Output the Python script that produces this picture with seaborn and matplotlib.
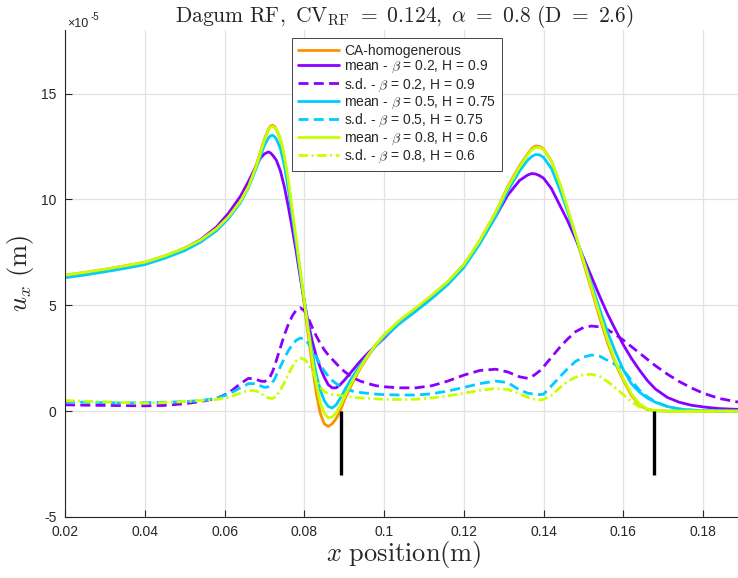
import numpy as np
import pandas as pd
import matplotlib
matplotlib.use("Agg")
import matplotlib.pyplot as plt
import seaborn as sns

# ---------------- data (displacement in units of 1e-5 m) ----------------
x_pos = [0.020, 0.025, 0.030, 0.035, 0.040, 0.045, 0.050, 0.054, 0.058, 0.061,
         0.064, 0.066, 0.068, 0.069, 0.070, 0.071, 0.0715, 0.072, 0.0725, 0.073,
         0.074, 0.075, 0.076, 0.077, 0.078, 0.079, 0.080, 0.081, 0.082, 0.083,
         0.084, 0.085, 0.086, 0.087, 0.088, 0.089, 0.090, 0.092, 0.094, 0.096,
         0.098, 0.100, 0.104, 0.108, 0.112, 0.116, 0.120, 0.124, 0.128, 0.131,
         0.134, 0.136, 0.137, 0.138, 0.139, 0.140, 0.142, 0.144, 0.146, 0.148,
         0.150, 0.152, 0.154, 0.156, 0.158, 0.160, 0.162, 0.164, 0.166, 0.168,
         0.171, 0.174, 0.177, 0.180, 0.184, 0.189]

ca_homog = [6.42, 6.55, 6.70, 6.86, 7.03, 7.33, 7.70, 8.08, 8.62, 9.20,
            9.95, 10.65, 11.65, 12.25, 12.85, 13.30, 13.45, 13.50, 13.45, 13.30,
            12.85, 11.95, 10.75, 9.35, 7.90, 6.45, 5.00, 3.55, 2.15, 0.85,
            -0.10, -0.60, -0.72, -0.60, -0.35, 0.00, 0.50, 1.30, 2.00, 2.60,
            3.15, 3.60, 4.28, 4.85, 5.45, 6.10, 6.90, 8.05, 9.40, 10.60,
            11.60, 12.15, 12.40, 12.52, 12.50, 12.38, 11.80, 10.75, 9.55, 8.30,
            7.00, 5.75, 4.45, 3.25, 2.25, 1.45, 0.75, 0.30, 0.08, 0.02,
            0.0, 0.0, 0.0, 0.0, 0.0, 0.0]

mean_b02 = [6.36, 6.50, 6.65, 6.81, 6.98, 7.30, 7.68, 8.10, 8.70, 9.35,
            10.15, 10.85, 11.60, 11.95, 12.15, 12.24, 12.20, 12.10, 11.98, 11.85,
            11.35, 10.60, 9.65, 8.60, 7.50, 6.30, 5.20, 4.15, 3.30, 2.60,
            2.05, 1.60, 1.25, 1.10, 1.10, 1.25, 1.45, 1.90, 2.35, 2.75,
            3.10, 3.45, 4.20, 4.80, 5.45, 6.10, 6.90, 7.95, 9.20, 10.20,
            10.90, 11.15, 11.22, 11.20, 11.12, 11.00, 10.50, 9.75, 9.00, 8.15,
            7.25, 6.35, 5.45, 4.60, 3.85, 3.13, 2.50, 1.95, 1.45, 1.05,
            0.65, 0.42, 0.28, 0.20, 0.12, 0.08]

sd_b02 = [0.30, 0.28, 0.27, 0.26, 0.25, 0.27, 0.35, 0.45, 0.60, 0.85,
          1.30, 1.55, 1.50, 1.42, 1.40, 1.50, 1.65, 1.85, 2.10, 2.40,
          3.00, 3.60, 4.10, 4.50, 4.78, 4.88, 4.75, 4.40, 3.95, 3.55,
          3.20, 2.90, 2.65, 2.45, 2.25, 2.05, 1.88, 1.60, 1.42, 1.30,
          1.20, 1.15, 1.10, 1.10, 1.20, 1.42, 1.70, 1.92, 1.98, 1.85,
          1.62, 1.55, 1.62, 1.75, 1.90, 2.10, 2.55, 3.00, 3.40, 3.75,
          3.95, 4.02, 3.98, 3.85, 3.62, 3.35, 3.05, 2.75, 2.45, 2.15,
          1.75, 1.40, 1.10, 0.85, 0.60, 0.42]

mean_b05 = [6.30, 6.43, 6.58, 6.74, 6.92, 7.22, 7.58, 7.98, 8.52, 9.10,
            9.85, 10.55, 11.50, 12.05, 12.55, 12.90, 13.00, 13.03, 12.97, 12.85,
            12.40, 11.60, 10.50, 9.20, 7.85, 6.50, 5.20, 3.90, 2.75, 1.75,
            1.00, 0.50, 0.22, 0.15, 0.30, 0.60, 0.95, 1.60, 2.15, 2.65,
            3.10, 3.50, 4.15, 4.72, 5.32, 5.98, 6.78, 7.90, 9.20, 10.40,
            11.35, 11.85, 12.02, 12.12, 12.10, 11.98, 11.45, 10.50, 9.45, 8.30,
            7.15, 6.00, 4.85, 3.75, 2.80, 1.95, 1.30, 0.90, 0.62, 0.42,
            0.22, 0.10, 0.05, 0.02, 0.01, 0.0]

sd_b05 = [0.45, 0.42, 0.40, 0.38, 0.40, 0.42, 0.45, 0.50, 0.60, 0.80,
          1.10, 1.30, 1.30, 1.20, 1.12, 1.15, 1.22, 1.35, 1.50, 1.70,
          2.10, 2.50, 2.85, 3.15, 3.35, 3.45, 3.42, 3.20, 2.90, 2.55,
          2.20, 1.90, 1.65, 1.45, 1.30, 1.18, 1.08, 0.95, 0.88, 0.84,
          0.80, 0.78, 0.76, 0.76, 0.82, 0.95, 1.12, 1.30, 1.42, 1.35,
          1.00, 0.85, 0.82, 0.80, 0.78, 0.80, 1.20, 1.60, 2.00, 2.35,
          2.55, 2.65, 2.60, 2.40, 2.20, 1.95, 1.45, 1.00, 0.68, 0.45,
          0.22, 0.10, 0.05, 0.02, 0.01, 0.0]

mean_b08 = [6.42, 6.55, 6.70, 6.86, 7.03, 7.33, 7.70, 8.08, 8.62, 9.18,
            9.92, 10.60, 11.60, 12.20, 12.80, 13.25, 13.40, 13.45, 13.40, 13.30,
            12.90, 12.05, 10.90, 9.50, 8.10, 6.65, 5.20, 3.80, 2.45, 1.30,
            0.40, -0.10, -0.32, -0.28, -0.08, 0.25, 0.65, 1.40, 2.05, 2.65,
            3.15, 3.60, 4.30, 4.88, 5.48, 6.12, 6.92, 8.05, 9.40, 10.55,
            11.55, 12.10, 12.35, 12.45, 12.45, 12.35, 11.80, 10.80, 9.60, 8.35,
            7.10, 5.85, 4.60, 3.40, 2.35, 1.52, 0.82, 0.35, 0.10, 0.03,
            0.0, 0.0, 0.0, 0.0, 0.0, 0.0]

sd_b08 = [0.50, 0.47, 0.44, 0.40, 0.38, 0.40, 0.45, 0.50, 0.55, 0.65,
          0.85, 0.98, 0.95, 0.85, 0.72, 0.62, 0.60, 0.60, 0.64, 0.72,
          1.00, 1.35, 1.75, 2.10, 2.38, 2.50, 2.45, 2.25, 1.90, 1.50,
          1.15, 0.92, 0.82, 0.78, 0.76, 0.74, 0.72, 0.66, 0.62, 0.60,
          0.58, 0.56, 0.55, 0.56, 0.62, 0.72, 0.85, 0.98, 1.07, 1.02,
          0.82, 0.65, 0.60, 0.55, 0.53, 0.55, 0.75, 1.10, 1.40, 1.60,
          1.72, 1.74, 1.65, 1.40, 1.10, 0.78, 0.45, 0.20, 0.07, 0.02,
          0.0, 0.0, 0.0, 0.0, 0.0, 0.0]

series_labels = ["CA-homogenerous",
                 r"mean - $\beta$ = 0.2, H = 0.9",
                 r"s.d. - $\beta$ = 0.2, H = 0.9",
                 r"mean - $\beta$ = 0.5, H = 0.75",
                 r"s.d. - $\beta$ = 0.5, H = 0.75",
                 r"mean - $\beta$ = 0.8, H = 0.6",
                 r"s.d. - $\beta$ = 0.8, H = 0.6"]
series_values = [ca_homog, mean_b02, sd_b02, mean_b05, sd_b05, mean_b08, sd_b08]

crack_x = [0.0892, 0.1677]
crack_y = [0.0, -3.0]

x_ticks = [0.02, 0.04, 0.06, 0.08, 0.10, 0.12, 0.14, 0.16, 0.18]
x_tick_labels = ["0.02", "0.04", "0.06", "0.08", "0.1", "0.12", "0.14", "0.16", "0.18"]
y_ticks = [-5, 0, 5, 10, 15]
y_tick_labels = ["-5", "0", "5", "10", "15"]

# ---------------- styling ----------------
colors = ["#FF9100", "#8A00FF", "#8A00FF", "#00CCFF", "#00CCFF", "#C8FF00", "#C8FF00"]
styles = ["-", "-", (0, (3.6, 1.9)), "-", (0, (3.6, 1.9)), "-", (0, (3.4, 1.3, 0.7, 1.3))]

sns.set_theme(style="white")
plt.rcParams['font.family'] = ['Liberation Sans', 'DejaVu Sans']
plt.rcParams['mathtext.fontset'] = 'cm'
plt.rcParams['axes.unicode_minus'] = False

fig = plt.figure(figsize=(7.38, 5.78), dpi=100)
ax = fig.add_axes([65 / 738, 61 / 578, 678 / 738, 487 / 578])

for lab, vals, col, ls in zip(series_labels, series_values, colors, styles):
    df = pd.DataFrame({"x": x_pos, "y": vals})
    sns.lineplot(data=df, x="x", y="y", color=col, linewidth=2.0,
                 linestyle=ls, label=lab, ax=ax, errorbar=None, sort=False)

ax.vlines(crack_x, crack_y[1], crack_y[0], color="black", linewidth=2.4, zorder=5)

ax.set_xlim(0.02, 0.19)
ax.set_ylim(-5, 18)
ax.set_xticks(x_ticks)
ax.set_xticklabels(x_tick_labels)
ax.set_yticks(y_ticks)
ax.set_yticklabels(y_tick_labels)

ax.grid(True, color="#e2e2e2", linewidth=0.9)
ax.set_axisbelow(True)
for s in ["top", "right"]:
    ax.spines[s].set_visible(False)
for s in ["left", "bottom"]:
    ax.spines[s].set_color("#262626")
    ax.spines[s].set_linewidth(0.8)
ax.tick_params(axis="both", direction="in", length=5, width=0.8,
               colors="#262626", labelsize=10, pad=6, left=True, bottom=True)

ax.set_xlabel(r"$x\ \mathrm{position(m)}$", fontsize=19, labelpad=0)
ax.set_ylabel(r"$u_x\ \mathrm{(m)}$", fontsize=19, labelpad=4)
ax.set_title(r"$\mathrm{Dagum\ RF,\ CV_{RF}\ =\ 0.124,\ }\alpha\mathrm{\ =\ 0.8\ (D\ =\ 2.6)}$",
             fontsize=15.5, pad=6, x=(404 - 65) / 678)

leg = ax.legend(loc="upper left", bbox_to_anchor=((292 - 65) / 678, (517 - 38) / 487),
                borderaxespad=0, fontsize=10, handlelength=2.95, handletextpad=0.4,
                labelspacing=0.07, borderpad=0.42, frameon=True, fancybox=False,
                edgecolor="#262626", framealpha=1)
leg.get_frame().set_linewidth(0.6)

fig.text(67 / 738, 1 - 27 / 578, "\u00d710", fontsize=9, color="#262626", va="baseline")
fig.text(91 / 738, 1 - 20 / 578, "-5", fontsize=7, color="#262626", va="baseline")

fig.savefig("out.png", dpi=100)
